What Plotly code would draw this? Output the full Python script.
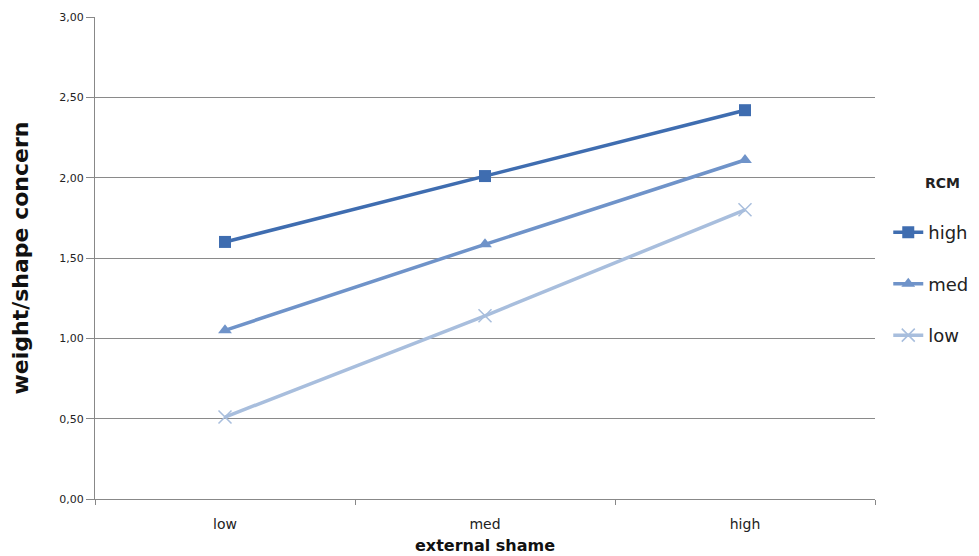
import plotly.graph_objects as go

categories = ["low", "med", "high"]
series_names = ["high", "med", "low"]
high_vals = [1.60, 2.01, 2.42]
med_vals = [1.05, 1.585, 2.11]
low_vals = [0.51, 1.14, 1.80]
y_ticks = [0, 0.5, 1.0, 1.5, 2.0, 2.5, 3.0]

colors = ["#3F6DB0", "#6F93C9", "#A8BEDD"]
symbols = ["square", "triangle-up", "x-thin"]
values = [high_vals, med_vals, low_vals]

fig = go.Figure()
for i, (name, vals) in enumerate(zip(series_names, values)):
    marker = dict(symbol=symbols[i], size=12, color=colors[i])
    if symbols[i] == "x-thin":
        marker.update(size=13, line=dict(width=1.5, color=colors[i]))
    fig.add_trace(go.Scatter(
        x=categories, y=vals, name=name, mode="lines+markers",
        line=dict(color=colors[i], width=3.5), marker=marker,
        legendgroup=name,
    ))

fig.add_annotation(
    text="<b>RCM</b>", xref="paper", yref="paper", x=1.086, y=0.656,
    xanchor="center", yanchor="middle", showarrow=False,
    font=dict(family="DejaVu Sans", size=14, color="#222"),
)

fig.update_layout(
    width=979, height=556,
    margin=dict(l=87, r=112, t=9, b=65),
    plot_bgcolor="white", paper_bgcolor="white",
    separators=", ",
    showlegend=True,
    legend=dict(
        x=1.017, y=0.591, xanchor="left", yanchor="top",
        font=dict(family="DejaVu Sans", size=18, color="#222"),
        tracegroupgap=25, itemwidth=30,
    ),
    xaxis=dict(
        type="category", tickson="boundaries", ticks="outside", ticklen=5,
        tickcolor="#888", showline=True, linecolor="#888", linewidth=1,
        showgrid=False, range=[-0.5, 2.5], ticklabelstandoff=12,
        automargin=False,
        tickfont=dict(family="DejaVu Sans", size=14, color="#222"),
        title=dict(text="<b>external shame</b>", standoff=9,
                   font=dict(family="DejaVu Sans", size=16, color="#111")),
    ),
    yaxis=dict(
        range=[0, 3], tickvals=y_ticks, tickformat=".2f",
        ticks="outside", ticklen=8, tickcolor="#888",
        showline=True, linecolor="#888", linewidth=1,
        showgrid=True, gridcolor="#8a8a8a", gridwidth=1, zeroline=False,
        automargin=False,
        tickfont=dict(family="DejaVu Sans", size=11, color="#222"),
        title=dict(text="<b>weight/shape concern</b>", standoff=35,
                   font=dict(family="DejaVu Sans", size=22, color="#111")),
    ),
)

fig.write_html("out.html")
